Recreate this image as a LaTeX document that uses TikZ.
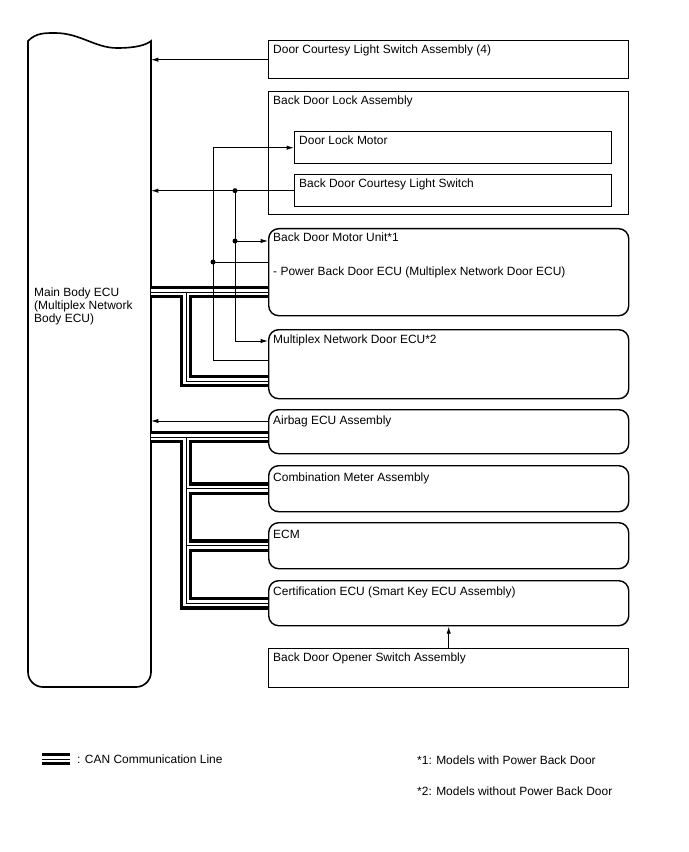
\documentclass[tikz,border=0pt]{standalone}
\usepackage{fontspec}
\setmainfont{Liberation Sans}
\usetikzlibrary{arrows.meta,calc}
\begin{document}
\begin{tikzpicture}[x=0.03cm, y=-0.03cm, >={Latex[length=2.2mm,width=1.3mm]},
    font=\fontsize{10.2}{11.1}\selectfont]
  \tikzset{
    plainbox/.style={rectangle, draw, line width=1.2pt, anchor=north west, minimum width=10.8cm, inner sep=0pt},
    roundbox/.style={plainbox, rounded corners=0.3cm},
    partbox/.style={plainbox, minimum width=9.51cm, minimum height=0.96cm},
    tag/.style={anchor=base west, inner sep=0pt},
    wire/.style={line width=0.8pt}
  }
  \useasboundingbox (0,0) rectangle (688,852);

  % main body ECU
  \draw[line width=1.4pt] (28,41) .. controls (36,33) and (44,33) .. (55,33)
     .. controls (80,33) and (95,48) .. (117,48)
     .. controls (136,48) and (146,45) .. (151,41)
     -- (151,600) [rounded corners=0.45cm] -- (151,687) -- (28,687) -- (28,600) [sharp corners] -- cycle;
  \coordinate (ecuR) at (151,41);
  \node[tag, anchor=north west, align=left] (tEcu) at (34,287.5) {Main Body ECU\\(Multiplex Network\\Body ECU)};

  % boxes on the right
  \node[plainbox, minimum height=1.14cm] (courtesy) at (268,40) {};
  \node[plainbox, minimum height=3.69cm] (lockasm) at (268,91) {};
  \node[partbox] (lockmotor) at (294,131) {};
  \node[partbox] (courtsw) at (294,174) {};
  \node[roundbox, minimum height=2.61cm] (motorunit) at (268,228) {};
  \node[roundbox, minimum height=2.07cm] (mpxdoor) at (268,329) {};
  \node[roundbox, minimum height=1.32cm] (airbag) at (268,409) {};
  \node[roundbox, minimum height=1.38cm] (meter) at (268,465) {};
  \node[roundbox, minimum height=1.38cm] (ecm) at (268,522) {};
  \node[roundbox, minimum height=1.35cm] (certecu) at (268,580) {};
  \node[plainbox, minimum height=1.17cm] (opener) at (268,648) {};

  \node[tag] (tCourtesy) at ($(courtesy.north west)+(5,13.5)$) {Door Courtesy Light Switch Assembly (4)};
  \node[tag] (tLockasm) at ($(lockasm.north west)+(5,13.5)$) {Back Door Lock Assembly};
  \node[tag] (tLockmotor) at ($(lockmotor.north west)+(5,13.5)$) {Door Lock Motor};
  \node[tag] (tCourtsw) at ($(courtsw.north west)+(5,13.5)$) {Back Door Courtesy Light Switch};
  \node[tag] (tMotorunit) at ($(motorunit.north west)+(5,13.5)$) {Back Door Motor Unit*1};
  \node[tag] (tPbd) at ($(motorunit.north west)+(5,47.5)$) {- Power Back Door ECU (Multiplex Network Door ECU)};
  \node[tag] (tMpxdoor) at ($(mpxdoor.north west)+(5,14.5)$) {Multiplex Network Door ECU*2};
  \node[tag] (tAirbag) at ($(airbag.north west)+(5,15)$) {Airbag ECU Assembly};
  \node[tag] (tMeter) at ($(meter.north west)+(5,16)$) {Combination Meter Assembly};
  \node[tag] (tEcm) at ($(ecm.north west)+(5,16)$) {ECM};
  \node[tag] (tCertecu) at ($(certecu.north west)+(5,15.5)$) {Certification ECU (Smart Key ECU Assembly)};
  \node[tag] (tOpener) at ($(opener.north west)+(5,13.5)$) {Back Door Opener Switch Assembly};

  % CAN lines: black, white, thin black
  \coordinate (busA) at (186,292);
  \coordinate (busB) at (186,437);
  \coordinate (canA) at ($(mpxdoor.north west)+(0,52)$);
  \coordinate (keyA) at (42,759);
  \coordinate (keyB) at (70,759);
  \foreach \w/\c in {11pt/black, 5.2pt/white, 0.8pt/black}
    \draw[line width=\w, draw=\c]
      (busA -| ecuR) -- (busA -| motorunit.west)
      (busA) |- (canA)
      (busB -| ecuR) -- (busB -| airbag.west)
      (busB) |- (certecu.west)
      (busB |- meter.west) -- (meter.west)
      (busB |- ecm.west) -- (ecm.west)
      (keyA) -- (keyB);

  % signal lines
  \path ($(motorunit.north west)+(0,13)$) coordinate (muIn)
        ($(motorunit.north west)+(0,34)$) coordinate (muOut)
        ($(mpxdoor.north west)+(0,12)$) coordinate (mdIn)
        ($(mpxdoor.north west)+(0,31)$) coordinate (mdOut)
        ($(airbag.north west)+(0,12)$) coordinate (abOut);
  \coordinate (tapA) at (235,0);
  \coordinate (tapB) at (213,0);
  \draw[wire, ->] (courtesy.west) -- (courtesy.west -| ecuR);
  \draw[wire, ->] (courtsw.west) -- (courtsw.west -| ecuR);
  \draw[wire, ->] (courtsw.west -| tapA) |- (muIn);
  \draw[wire, ->] (courtsw.west -| tapA) |- (mdIn);
  \draw[wire, ->] (mdOut) -| (lockmotor.west -| tapB) -- (lockmotor.west);
  \draw[wire] (muOut) -- (muOut -| tapB);
  \draw[wire, ->] (abOut) -- (abOut -| ecuR);
  \draw[wire, ->] (opener.north) -- (opener.north |- certecu.south);
  \fill (courtsw.west -| tapA) circle[radius=0.075cm];
  \fill (muIn -| tapA) circle[radius=0.075cm];
  \fill (muOut -| tapB) circle[radius=0.075cm];

  % legend
  \node[tag] (tKey) at (77,763) {: CAN Communication Line};
  \node[tag] (tNote1) at (417,764) {*1: Models with Power Back Door};
  \node[tag] (tNote2) at (417,795) {*2: Models without Power Back Door};
\end{tikzpicture}
\end{document}
